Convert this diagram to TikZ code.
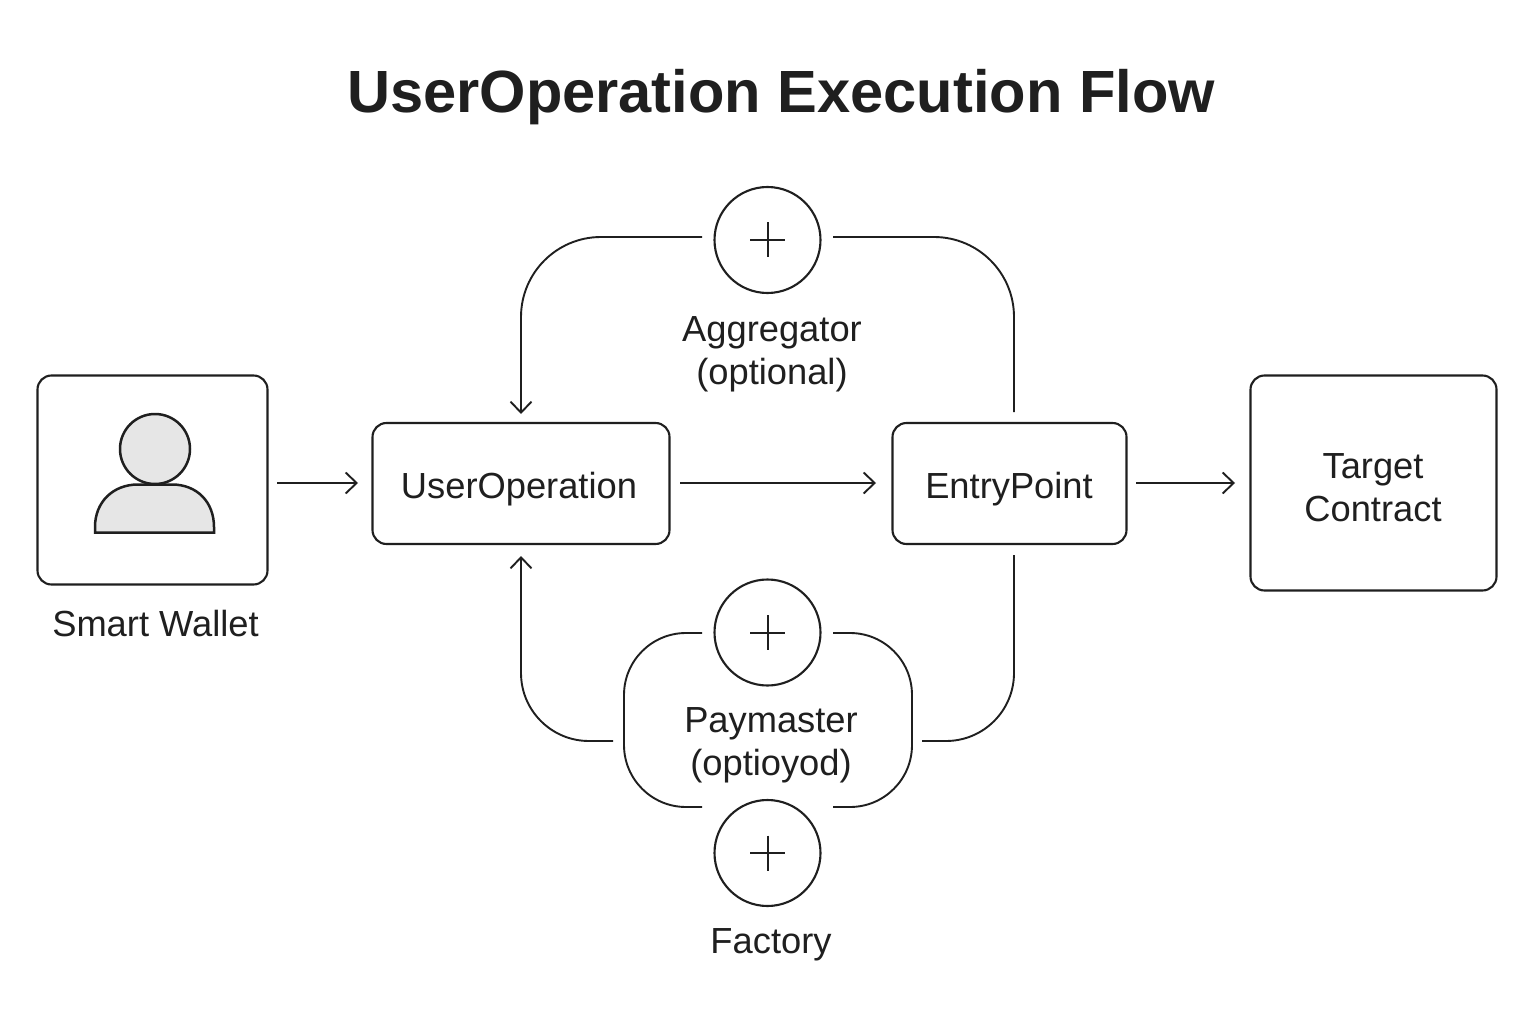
\documentclass[tikz,border=0pt]{standalone}
\usepackage{fontspec}
\setmainfont{Liberation Sans}
\usetikzlibrary{arrows.meta}
\definecolor{ink}{HTML}{1F1F1F}
\definecolor{personfill}{HTML}{E6E6E6}
\tikzset{
  x=1pt,y=-1pt,
  line/.style={draw=ink,line width=1.9pt},
  flow/.style={line,-{Straight Barb[length=11pt,width=21pt,line width=1.9pt]}},
  boxn/.style={draw=ink,line width=2.1pt,rounded corners=14pt,inner sep=0pt},
  plusc/.style={circle,draw=ink,line width=2.1pt,minimum size=106pt,inner sep=0pt},
  plusmark/.style={draw=ink,line width=2pt},
  person/.style={draw=ink,line width=2.5pt,fill=personfill},
  lab/.style={text=ink,font=\fontsize{36.3}{43}\selectfont,align=center,inner sep=0pt},
}
\newcommand{\boxat}[5]{\node[boxn,minimum width=#4pt,minimum height=#5pt] (#1) at (#2,#3) {};}
\begin{document}
\begin{tikzpicture}
\useasboundingbox (0,0) rectangle (1536,1024);
\fill[white] (0,0) rectangle (1536,1024);
\node[text=ink,font=\fontsize{59.6}{70}\selectfont\bfseries,inner sep=0pt] (title) at (781,97) {UserOperation Execution Flow};
\boxat{wallet}{152.5}{480}{230}{209}
\boxat{uop}{521}{483.5}{297}{121}
\boxat{ep}{1009.5}{483.5}{234}{121}
\boxat{target}{1373.5}{483}{246}{215}
\node[lab] (uoptext) at (519,489) {UserOperation};
\node[lab] (eptext) at (1009,489) {EntryPoint};
\node[lab] (tgttext) at (1373,487.5) {Target\\Contract};
\node[lab] (wl) at (155.5,624) {Smart Wallet};
% person
\node[circle,person,minimum size=70pt,inner sep=0pt] (head) at (155,449) {};
\draw[person] (95,532.5) -- (95,527) .. controls (95,502) and (113,484.5) .. (138,484.5) -- (172,484.5) .. controls (197,484.5) and (214,502) .. (214,527) -- (214,532.5) -- cycle;
% circles
\node[plusc] (agg) at (767.5,240) {};
\node[plusc] (pay) at (767.5,632.5) {};
\node[plusc] (fac) at (767.5,853) {};
\foreach \y in {240,632.5,853}{
  \draw[plusmark] (767.5,\y-17.5) -- (767.5,\y+17.5) (750,\y) -- (785,\y);
}
\node[lab] (agl) at (772,354) {Aggregator\\(optional)};
\node[lab] (pyl) at (771,745) {Paymaster\\(optioyod)};
\node[lab] (fcl) at (771,945) {Factory};
% horizontal flows
\coordinate (a1) at (277,483); \coordinate (a2) at (358,483);
\draw[flow] (a1) -- (a2);
\coordinate (b1) at (680,483); \coordinate (b2) at (876,483);
\draw[flow] (b1) -- (b2);
\coordinate (c1) at (1136,483); \coordinate (c2) at (1235,483);
\draw[flow] (c1) -- (c2);
% upper loop
\coordinate (d1) at (702,237); \coordinate (d2) at (521,414);
\draw[flow,rounded corners=80pt] (d1) -| (d2);
\coordinate (e1) at (833,237); \coordinate (e2) at (1014,412);
\draw[line,rounded corners=80pt] (e1) -| (e2);
% lower loop
\coordinate (f1) at (613,741); \coordinate (f2) at (521,556);
\draw[flow,rounded corners=68pt] (f1) -| (f2);
\coordinate (g1) at (922,741); \coordinate (g2) at (1014,555);
\draw[line,rounded corners=68pt] (g1) -| (g2);
% paymaster bracket
\coordinate (h1) at (702,633); \coordinate (h2) at (702,807);
\coordinate (hm) at (624,720); \coordinate (im) at (912,720);
\draw[line,rounded corners=62pt] (h1) -| (hm) (h2) -| (hm);
\coordinate (i1) at (833,633); \coordinate (i2) at (833,807);
\draw[line,rounded corners=62pt] (i1) -| (im) (i2) -| (im);
\end{tikzpicture}
\end{document}
